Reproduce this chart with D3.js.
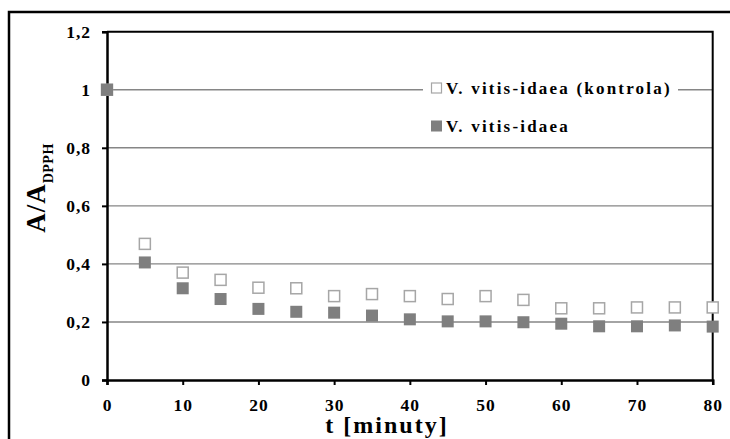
<!DOCTYPE html>
<html>
<head>
<meta charset="utf-8">
<script src="https://cdn.jsdelivr.net/npm/d3@7"></script>
<style>
  body { margin: 0; background: #fff; }
</style>
</head>
<body>
<svg width="730" height="439"></svg>
<script>
// data
const times = [0, 5, 10, 15, 20, 25, 30, 35, 40, 45, 50, 55, 60, 65, 70, 75, 80];
const kontrola = [1.0, 0.469, 0.370, 0.345, 0.318, 0.316, 0.289, 0.296, 0.289, 0.279, 0.289, 0.276, 0.247, 0.247, 0.250, 0.250, 0.250];
const vitis = [1.0, 0.405, 0.316, 0.279, 0.245, 0.235, 0.232, 0.222, 0.209, 0.202, 0.202, 0.199, 0.194, 0.185, 0.185, 0.188, 0.184];
const xTicks = [0, 10, 20, 30, 40, 50, 60, 70, 80];
const yTicks = [0, 0.2, 0.4, 0.6, 0.8, 1, 1.2];
const seriesNames = ['V. vitis-idaea (kontrola)', 'V. vitis-idaea'];

const FONT = "'Liberation Serif', 'Times New Roman', serif";

const svg = d3.select('svg');
const margin = { top: 31.7, right: 17.3, bottom: 59, left: 107 };
const width = +svg.attr('width');
const height = +svg.attr('height');
const innerWidth = width - margin.left - margin.right;
const innerHeight = height - margin.top - margin.bottom;

// outer frame
svg.append('rect')
    .attr('x', 9).attr('y', 12)
    .attr('width', 760).attr('height', 460)
    .attr('fill', 'none')
    .attr('stroke', '#000')
    .attr('stroke-width', 2.5);

const xScale = d3.scaleLinear().domain([0, 80]).range([0, innerWidth]);
const yScale = d3.scaleLinear().domain([0, 1.2]).range([innerHeight, 0]);

const g = svg.append('g')
    .attr('transform', `translate(${margin.left},${margin.top})`);

// gridlines
g.selectAll('.grid').data(yTicks.filter(d => d > 0 && d < 1.2))
    .enter().append('line')
    .attr('class', 'grid')
    .attr('x1', 0).attr('x2', innerWidth)
    .attr('y1', d => yScale(d)).attr('y2', d => yScale(d))
    .attr('stroke', '#868686')
    .attr('stroke-width', 1.4);

// plot border (top/right)
g.append('path')
    .attr('d', `M0,${yScale(1.2)}H${innerWidth}V${innerHeight}`)
    .attr('fill', 'none')
    .attr('stroke', '#000')
    .attr('stroke-width', 2);

const fmt = d => String(+d.toFixed(1)).replace('.', ',');

const yAxis = d3.axisLeft(yScale)
    .tickValues(yTicks)
    .tickFormat(fmt)
    .tickSize(5)
    .tickPadding(11);

const xAxis = d3.axisBottom(xScale)
    .tickValues(xTicks)
    .tickSize(5)
    .tickPadding(10);

const yAxisG = g.append('g').call(yAxis);
const xAxisG = g.append('g').call(xAxis)
    .attr('transform', `translate(0,${innerHeight})`);

[yAxisG, xAxisG].forEach(ax => {
    ax.attr('font-family', FONT).attr('font-size', 17).attr('font-weight', 'bold');
    ax.select('.domain').attr('stroke', '#000').attr('stroke-width', 2.5);
    ax.selectAll('.tick line').attr('stroke', '#000').attr('stroke-width', 2);
    ax.selectAll('.tick text')
        .style('font-family', FONT)
        .style('font-weight', 'bold')
        .style('font-size', '17.5px')
        .style('letter-spacing', '1px')
        .attr('fill', '#000');
});
yAxisG.selectAll('.tick text').attr('dy', '0.34em');
xAxisG.selectAll('.tick text').attr('dy', '0.9em');

// legend box covers the gridline
const legend = g.append('g');
legend.append('rect')
    .attr('x', 423 - margin.left).attr('y', 64 - margin.top)
    .attr('width', 255).attr('height', 76)
    .attr('fill', '#fff');

// points
const sq1 = 11, sq2 = 12;
g.selectAll('.ctrl').data(times)
    .enter().append('rect')
    .attr('class', 'ctrl')
    .attr('x', (d, i) => xScale(d) - sq1 / 2)
    .attr('y', (d, i) => yScale(kontrola[i]) - sq1 / 2)
    .attr('width', sq1).attr('height', sq1)
    .attr('fill', '#fff')
    .attr('stroke', '#a6a6a6')
    .attr('stroke-width', 1.5);

g.selectAll('.vit').data(times)
    .enter().append('rect')
    .attr('class', 'vit')
    .attr('x', (d, i) => xScale(d) - sq2 / 2)
    .attr('y', (d, i) => yScale(vitis[i]) - sq2 / 2)
    .attr('width', sq2).attr('height', sq2)
    .attr('fill', '#7f7f7f');

// legend entries
legend.append('rect')
    .attr('x', 431.5 - margin.left).attr('y', 83 - margin.top)
    .attr('width', 10).attr('height', 10)
    .attr('fill', '#fff').attr('stroke', '#a6a6a6').attr('stroke-width', 1.2);
legend.append('rect')
    .attr('x', 431 - margin.left).attr('y', 120.5 - margin.top)
    .attr('width', 11).attr('height', 11)
    .attr('fill', '#7f7f7f');

legend.selectAll('.ltext').data(seriesNames)
    .enter().append('text')
    .attr('class', 'ltext')
    .attr('x', 446 - margin.left)
    .attr('y', (d, i) => (i === 0 ? 94.5 : 132) - margin.top)
    .style('font-family', FONT)
    .style('font-weight', 'bold')
    .style('font-size', '17px')
    .style('letter-spacing', '2.2px')
    .text(d => d);

// x label
svg.append('text')
    .attr('x', 387).attr('y', 433)
    .attr('text-anchor', 'middle')
    .style('font-family', FONT)
    .style('font-weight', 'bold')
    .style('font-size', '24px')
    .style('letter-spacing', '2px')
    .text('t [minuty]');

// y label
const yl = svg.append('text')
    .attr('transform', 'translate(45,188) rotate(-90)')
    .attr('text-anchor', 'middle')
    .style('font-family', FONT)
    .style('font-weight', 'bold')
    .style('font-size', '27px');
yl.append('tspan').style('letter-spacing', '1px').text('A/A');
yl.append('tspan').attr('dy', 8).style('font-size', '14px').style('letter-spacing', '0.5px').text('DPPH');
</script>
</body>
</html>
